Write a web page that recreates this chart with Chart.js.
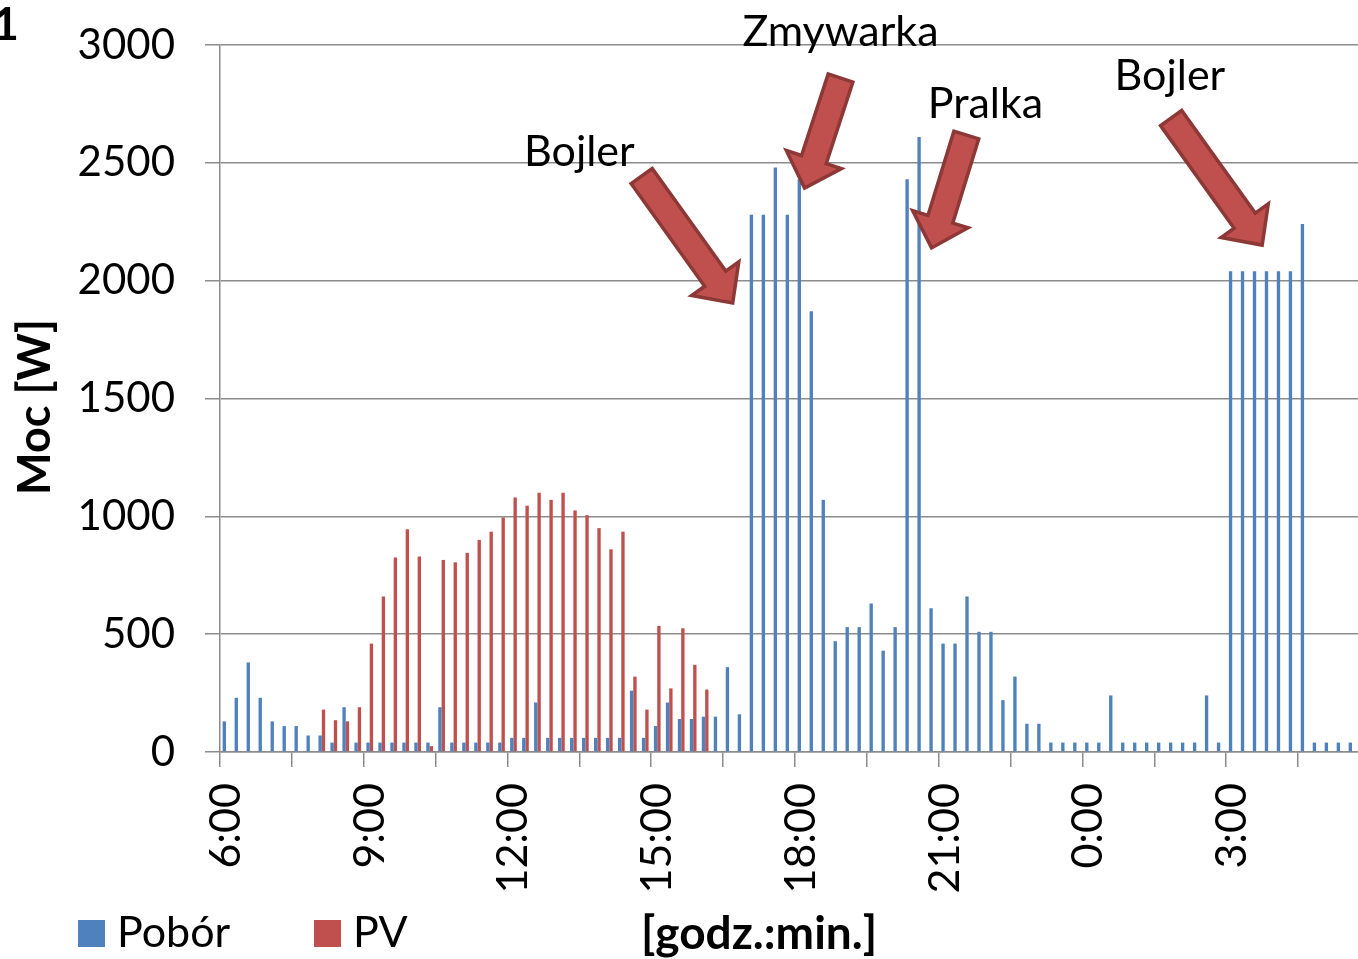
<!DOCTYPE html>
<html>
<head>
<meta charset="utf-8">
<script src="https://cdn.jsdelivr.net/npm/chart.js@4/dist/chart.umd.min.js"></script>
<style>
  html, body { margin: 0; padding: 0; background: #ffffff; overflow: hidden; }
  #wrap { position: relative; width: 1358px; height: 959px; }
</style>
</head>
<body>
<div id="wrap"><canvas id="c" width="1358" height="959"></canvas></div>
<script>
// ---- data (15-minute intervals from 6:00) ----
const categories = [
  '6:00','6:15','6:30','6:45','7:00','7:15','7:30','7:45','8:00','8:15','8:30','8:45',
  '9:00','9:15','9:30','9:45','10:00','10:15','10:30','10:45','11:00','11:15','11:30','11:45',
  '12:00','12:15','12:30','12:45','13:00','13:15','13:30','13:45','14:00','14:15','14:30','14:45',
  '15:00','15:15','15:30','15:45','16:00','16:15','16:30','16:45','17:00','17:15','17:30','17:45',
  '18:00','18:15','18:30','18:45','19:00','19:15','19:30','19:45','20:00','20:15','20:30','20:45',
  '21:00','21:15','21:30','21:45','22:00','22:15','22:30','22:45','23:00','23:15','23:30','23:45',
  '0:00','0:15','0:30','0:45','1:00','1:15','1:30','1:45','2:00','2:15','2:30','2:45',
  '3:00','3:15','3:30','3:45','4:00','4:15','4:30','4:45','5:00','5:15','5:30'
];
const tickLabels = ['6:00','9:00','12:00','15:00','18:00','21:00','0:00','3:00'];

const pobor = [
  130, 230, 380, 230, 130, 110, 110, 70, 70, 40, 190, 40,
  40, 40, 40, 40, 40, 40, 190, 40, 40, 40, 40, 40,
  60, 60, 210, 60, 60, 60, 60, 60, 60, 60, 260, 60,
  110, 210, 140, 140, 150, 150, 360, 160, 2280, 2280, 2480, 2280,
  2430, 1870, 1070, 470, 530, 530, 630, 430, 530, 2430, 2610, 610,
  460, 460, 660, 510, 510, 220, 320, 120, 120, 40, 40, 40,
  40, 40, 240, 40, 40, 40, 40, 40, 40, 40, 240, 40,
  2040, 2040, 2040, 2040, 2040, 2040, 2240, 40, 40, 40, 40
];
const pv = [
  null, null, null, null, null, null, null, null, 180, 135, 130, 190,
  460, 660, 825, 945, 830, 25, 815, 805, 845, 900, 935, 995,
  1080, 1045, 1100, 1070, 1100, 1025, 1005, 950, 860, 935, 320, 180,
  535, 270, 525, 370, 265, null, null, null, null, null, null, null,
  null, null, null, null, null, null, null, null, null, null, null, null,
  null, null, null, null, null, null, null, null, null, null, null, null,
  null, null, null, null, null, null, null, null, null, null, null, null,
  null, null, null, null, null, null, null, null, null, null, null
];
const seriesNames = ['Pobór', 'PV'];
const yTicks = [0, 500, 1000, 1500, 2000, 2500, 3000];

// annotations anchored in data space: [category index, value]
const noteTexts = ['Bojler', 'Zmywarka', 'Pralka', 'Bojler'];
const noteAt    = [[29.5, 2546], [51.3, 3055], [63.4, 2750], [78.8, 2868]];
const arrowFrom = [[34.7, 2444], [51.3, 2860], [61.8, 2618], [78.9, 2690]];
const arrowTo   = [[42.3, 1905], [48.3, 2393], [58.9, 2139], [86.5, 2151]];

// ---- styles ----
const BLUE = '#4F81BD';
const RED = '#C0504D';
const RED_DARK = '#8C3836';
const GRID = '#8c8c8c';
const FONT = 'Lato, "Open Sans", sans-serif';

function drawArrow(ctx, x1, y1, x2, y2) {
  const shaftW = 26, headW = 58, headL = 30;
  const dx = x2 - x1, dy = y2 - y1;
  const len = Math.hypot(dx, dy);
  const ux = dx / len, uy = dy / len;
  const nx = -uy, ny = ux;
  const bx = x2 - ux * headL, by = y2 - uy * headL;
  const pts = [
    [x1 + nx * shaftW / 2, y1 + ny * shaftW / 2],
    [bx + nx * shaftW / 2, by + ny * shaftW / 2],
    [bx + nx * headW / 2, by + ny * headW / 2],
    [x2, y2],
    [bx - nx * headW / 2, by - ny * headW / 2],
    [bx - nx * shaftW / 2, by - ny * shaftW / 2],
    [x1 - nx * shaftW / 2, y1 - ny * shaftW / 2]
  ];
  ctx.beginPath();
  ctx.moveTo(pts[0][0], pts[0][1]);
  for (let i = 1; i < pts.length; i++) ctx.lineTo(pts[i][0], pts[i][1]);
  ctx.closePath();
  ctx.fillStyle = RED;
  ctx.fill();
  ctx.lineWidth = 3.5;
  ctx.lineJoin = 'miter';
  ctx.strokeStyle = RED_DARK;
  ctx.stroke();
}

const decorPlugin = {
  id: 'decor',
  afterDatasetsDraw(chart) {
    const ctx = chart.ctx;
    const xs = chart.scales.x, ys = chart.scales.y;
    ctx.save();
    // arrows
    for (let i = 0; i < arrowFrom.length; i++) {
      drawArrow(ctx,
        xs.getPixelForValue(arrowFrom[i][0]), ys.getPixelForValue(arrowFrom[i][1]),
        xs.getPixelForValue(arrowTo[i][0]), ys.getPixelForValue(arrowTo[i][1]));
    }
    // annotation texts
    ctx.fillStyle = '#000';
    ctx.font = '43px ' + FONT;
    ctx.textAlign = 'center';
    ctx.textBaseline = 'middle';
    for (let i = 0; i < noteTexts.length; i++) {
      ctx.fillText(noteTexts[i], xs.getPixelForValue(noteAt[i][0]), ys.getPixelForValue(noteAt[i][1]));
    }
    // legend
    const colors = [BLUE, RED];
    const legendX = [78, 314];
    ctx.textAlign = 'left';
    chart.data.datasets.forEach((ds, i) => {
      ctx.fillStyle = colors[i];
      ctx.fillRect(legendX[i], 920, 27, 27);
      ctx.fillStyle = '#000';
      ctx.font = '43px ' + FONT;
      ctx.fillText(ds.label, legendX[i] + 39, 933);
    });
    // x axis title
    ctx.font = 'bold 46px ' + FONT;
    ctx.textAlign = 'center';
    ctx.fillText('[godz.:min.]', 759, 934);
    // y axis title
    ctx.font = 'bold 45px ' + FONT;
    ctx.save();
    ctx.translate(35, 407);
    ctx.rotate(-Math.PI / 2);
    ctx.fillText('Moc [W]', 0, 0);
    ctx.restore();
    // panel number (cut at the left edge)
    ctx.font = 'bold 46px ' + FONT;
    ctx.textAlign = 'right';
    ctx.textBaseline = 'alphabetic';
    ctx.fillText('1', 19, 40);
    ctx.restore();
  }
};

new Chart(document.getElementById('c'), {
  type: 'bar',
  data: {
    labels: categories,
    datasets: [
      { label: seriesNames[0], data: pobor, backgroundColor: BLUE, borderWidth: 0 },
      { label: seriesNames[1], data: pv, backgroundColor: RED, borderWidth: 0 }
    ]
  },
  options: {
    responsive: false,
    animation: false,
    devicePixelRatio: 1,
    layout: { padding: { top: 45, left: 0, right: 0, bottom: 0 } },
    datasets: { bar: { categoryPercentage: 0.56, barPercentage: 1.0 } },
    plugins: { legend: { display: false }, tooltip: { enabled: false } },
    scales: {
      x: {
        type: 'category',
        offset: true,
        grid: {
          offset: true,
          drawOnChartArea: false,
          drawTicks: true,
          tickLength: 15,
          lineWidth: 1.5,
          color: (c) => (c.type === 'tick' && c.index % 6 === 0) ? GRID : 'rgba(0,0,0,0)'
        },
        border: { display: true, color: GRID, width: 1.5 },
        ticks: {
          autoSkip: false,
          minRotation: 90,
          maxRotation: 90,
          padding: 16,
          color: '#000',
          font: { family: FONT, size: 43 },
          callback: (v, i) => (i % 12 === 0 ? tickLabels[i / 12] : '')
        },
        afterFit: (s) => { s.height = 207; s.paddingLeft = 0; s.paddingRight = 0; }
      },
      y: {
        min: 0,
        max: 3000,
        afterBuildTicks: (s) => { s.ticks = yTicks.map(v => ({ value: v })); },
        grid: { color: GRID, lineWidth: 1.5, tickLength: 15, drawTicks: true },
        border: { display: true, color: GRID, width: 1.5 },
        ticks: {
          padding: 30,
          color: '#000',
          font: { family: FONT, size: 42 },
          callback: (v) => String(v)
        },
        afterFit: (s) => { s.width = 220; s.paddingTop = 0; s.paddingBottom = 0; }
      }
    }
  },
  plugins: [decorPlugin]
});
</script>
</body>
</html>
